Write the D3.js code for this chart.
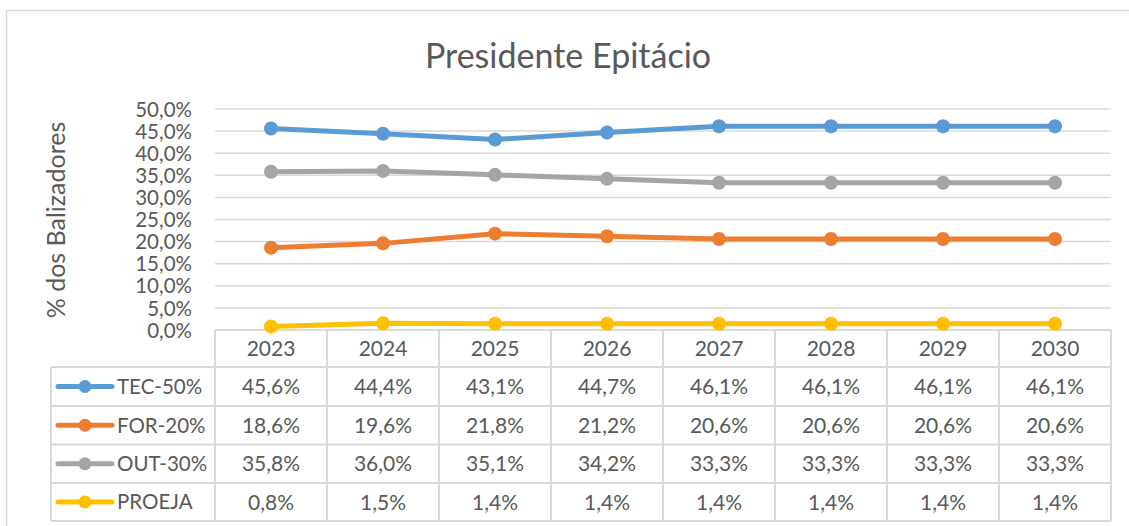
<!DOCTYPE html>
<html><head><meta charset="utf-8">
<script src="https://cdn.jsdelivr.net/npm/d3@7"></script>
<style>body{margin:0;background:#fff}svg{display:block}text{font-family:Lato,"Open Sans",sans-serif;fill:#595959}</style>
</head><body><svg id="c" width="1129" height="526"></svg>
<script>
const title = "Presidente Epitácio";
const yTitle = "% dos Balizadores";
const years = ["2023","2024","2025","2026","2027","2028","2029","2030"];
const seriesNames = ["TEC-50%","FOR-20%","OUT-30%","PROEJA"];
const seriesColors = ["#5B9BD5","#ED7D31","#A5A5A5","#FFC000"];
const tec = [45.6,44.4,43.1,44.7,46.1,46.1,46.1,46.1];
const forr = [18.6,19.6,21.8,21.2,20.6,20.6,20.6,20.6];
const out = [35.8,36.0,35.1,34.2,33.3,33.3,33.3,33.3];
const proeja = [0.8,1.5,1.4,1.4,1.4,1.4,1.4,1.4];
const yTicks = [0,5,10,15,20,25,30,35,40,45,50];
const seriesValues = [tec,forr,out,proeja];

const svg = d3.select("#c");
const grid = "#d9d9d9";
const pLeft = 215, pRight = 1111, pTop = 109, pBottom = 330;
const tableRows = [330, 367, 406, 444.5, 483, 521];
const legendLeft = 51;

svg.append("rect").attr("x",6.5).attr("y",10.5).attr("width",1140).attr("height",540)
  .attr("fill","none").attr("stroke",grid).attr("stroke-width",1.5);

const x = d3.scaleBand().domain(years).range([pLeft,pRight]);
const y = d3.scaleLinear().domain([0,50]).range([pBottom,pTop]);
const fmt = v => d3.format(".1f")(v).replace(".",",") + "%";

// gridlines
svg.append("g").selectAll("line").data(yTicks.filter(t=>t>0)).join("line")
  .attr("x1",pLeft).attr("x2",pRight).attr("y1",d=>y(d)).attr("y2",d=>y(d))
  .attr("stroke",grid).attr("stroke-width",1.5);

// y axis labels
const yAxis = d3.axisLeft(y).tickValues(yTicks).tickFormat(fmt).tickSize(0).tickPadding(0);
const ga = svg.append("g").attr("transform",`translate(192,0)`).call(yAxis);
ga.select(".domain").remove();
ga.selectAll("text").attr("font-size",20.5).attr("font-family","Lato").attr("fill","#595959").attr("dy","0.35em");

svg.append("text").attr("transform",`translate(65,220) rotate(-90)`).attr("text-anchor","middle")
  .attr("font-size",25).text(yTitle);

svg.append("text").attr("x",568).attr("y",68).attr("text-anchor","middle").attr("font-size",34).text(title);

// table
const tg = svg.append("g");
tg.append("line").attr("x1",pLeft).attr("x2",pRight).attr("y1",tableRows[0]).attr("y2",tableRows[0]).attr("stroke",grid).attr("stroke-width",2);
tableRows.slice(1).forEach(r=>tg.append("line").attr("x1",legendLeft).attr("x2",pRight).attr("y1",r).attr("y2",r).attr("stroke",grid).attr("stroke-width",2));
tg.append("line").attr("x1",legendLeft).attr("x2",legendLeft).attr("y1",tableRows[1]).attr("y2",tableRows[5]).attr("stroke",grid).attr("stroke-width",2);
years.forEach(yr=>tg.append("line").attr("x1",x(yr)).attr("x2",x(yr)).attr("y1",tableRows[0]).attr("y2",tableRows[5]).attr("stroke",grid).attr("stroke-width",2));
tg.append("line").attr("x1",pRight).attr("x2",pRight).attr("y1",tableRows[0]).attr("y2",tableRows[5]).attr("stroke",grid).attr("stroke-width",2);

tg.selectAll("text.yr").data(years).join("text").attr("class","yr")
  .attr("x",d=>x(d)+x.bandwidth()/2).attr("y",(tableRows[0]+tableRows[1])/2).attr("dy","0.36em")
  .attr("text-anchor","middle").attr("font-size",21).text(d=>d);

seriesNames.forEach((name,i)=>{
  const cy = (tableRows[i+1]+tableRows[i+2])/2;
  tg.append("line").attr("x1",58).attr("x2",112).attr("y1",cy).attr("y2",cy)
    .attr("stroke",seriesColors[i]).attr("stroke-width",5).attr("stroke-linecap","round");
  tg.append("circle").attr("cx",85).attr("cy",cy).attr("r",6.5).attr("fill",seriesColors[i]);
  tg.append("text").attr("x",117).attr("y",cy).attr("dy","0.36em").attr("font-size",20.5).text(name);
  tg.selectAll("text.v"+i).data(seriesValues[i]).join("text").attr("class","v"+i)
    .attr("x",(d,j)=>x(years[j])+x.bandwidth()/2).attr("y",cy).attr("dy","0.36em")
    .attr("text-anchor","middle").attr("font-size",21).text(d=>fmt(d));
});

// lines
const line = d3.line().x((d,j)=>x(years[j])+x.bandwidth()/2).y(d=>y(d));
seriesValues.forEach((vals,i)=>{
  const g = svg.append("g");
  g.append("path").datum(vals).attr("d",line).attr("fill","none")
    .attr("stroke",seriesColors[i]).attr("stroke-width",5).attr("stroke-linejoin","round");
  g.selectAll("circle").data(vals).join("circle")
    .attr("cx",(d,j)=>x(years[j])+x.bandwidth()/2).attr("cy",d=>y(d)).attr("r",7).attr("fill",seriesColors[i]);
});
</script></body></html>
